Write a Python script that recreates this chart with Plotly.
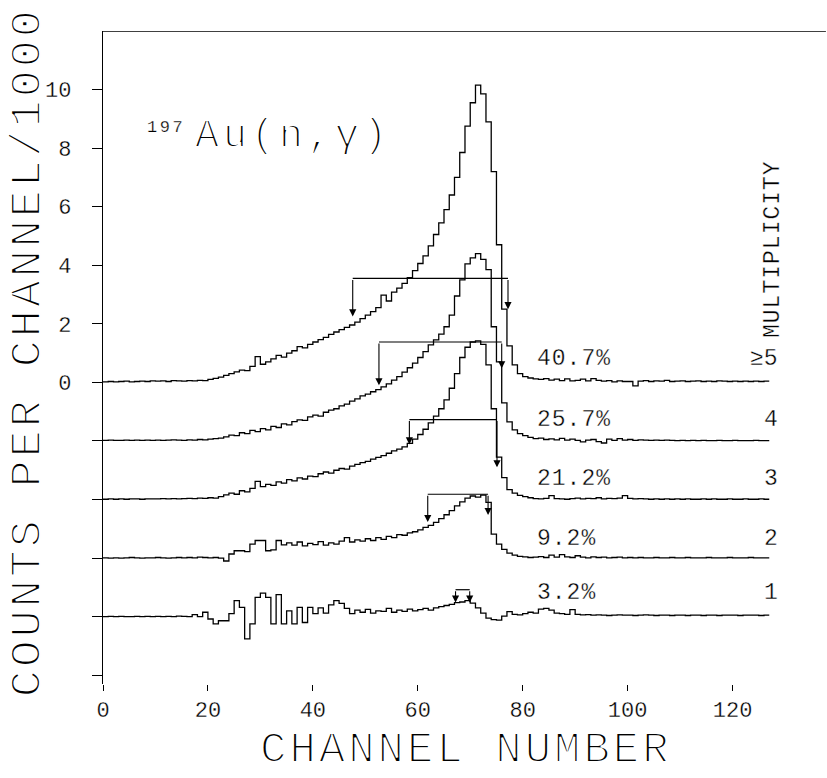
import numpy as np
import plotly.graph_objects as go

# Axis ticks
CHANNEL_TICKS = [0, 20, 40, 60, 80, 100, 120]
COUNT_TICKS = [-10, -8, -6, -4, -2, 0, 2, 4, 6, 8, 10]
COUNT_TICK_TEXT = ["", "", "", "", "", "0", "2", "4", "6", "8", "10"]

# Multiplicity groups, their share of events and the vertical offset of each spectrum
MULTIPLICITY = ["≥5", "4", "3", "2", "1"]
FRACTION = ["40.7%", "25.7%", "21.2%", "9.2%", "3.2%"]
BASELINE = [0, -2, -4, -6, -8]

# Counts per channel / 1000, channels 0..126
SPEC_GE5 = [
    0.02, 0.03, 0.02, 0.03, 0.04, 0.02, 0.03, 0.04, 0.03, 0.05,
    0.04, 0.05, 0.03, 0.06, 0.05, 0.04, 0.06, 0.05, 0.07, 0.06,
    0.10, 0.14, 0.18, 0.24, 0.30, 0.36, 0.42, 0.40, 0.55, 0.88,
    0.62, 0.70, 0.80, 0.92, 0.86, 1.00, 1.08, 1.22, 1.18, 1.30,
    1.38, 1.46, 1.54, 1.64, 1.72, 1.80, 1.88, 1.96, 2.06, 2.18,
    2.30, 2.42, 2.55, 2.98, 2.78, 3.08, 3.22, 3.38, 3.58, 3.82,
    4.06, 4.32, 4.66, 5.05, 5.45, 5.90, 6.40, 7.00, 7.85, 8.75,
    9.55, 10.15, 9.85, 8.90, 7.20, 4.70, 2.50, 1.25, 0.60, 0.30,
    0.20, 0.15, 0.12, 0.10, 0.13, 0.08, 0.11, 0.06, 0.12, 0.05,
    0.07, 0.11, 0.05, 0.13, 0.07, 0.04, 0.06, 0.02, 0.05, 0.03,
    0.03, -0.12, 0.04, 0.06, 0.03, 0.05, 0.04, 0.07, 0.03, 0.04,
    0.05, 0.03, 0.04, 0.05, 0.03, 0.04, 0.03, 0.05, 0.04, 0.03,
    0.04, 0.03, 0.04, 0.03, 0.04, 0.03, 0.04,
]
SPEC_4 = [
    0.02, 0.03, 0.02, 0.02, 0.03, 0.02, 0.03, 0.02, 0.03, 0.02,
    0.03, 0.02, 0.03, 0.04, 0.03, 0.02, 0.04, 0.03, 0.05, 0.04,
    0.06, 0.08, 0.10, 0.14, 0.20, 0.18, 0.28, 0.25, 0.36, 0.32,
    0.42, 0.38, 0.50, 0.46, 0.58, 0.55, 0.66, 0.72, 0.70, 0.82,
    0.88, 0.85, 0.98, 1.05, 1.10, 1.20, 1.26, 1.36, 1.44, 1.54,
    1.60, 1.68, 1.75, 1.85, 1.95, 2.08, 2.20, 2.35, 2.50, 2.66,
    2.85, 3.05, 3.28, 3.45, 3.65, 3.90, 4.30, 4.95, 5.50, 6.05,
    6.25, 6.40, 6.20, 5.85, 3.90, 2.70, 1.30, 0.65, 0.38, 0.25,
    0.18, 0.12, 0.08, 0.10, 0.05, 0.07, 0.04, 0.09, 0.03, 0.06,
    0.02, -0.03, 0.03, 0.05, -0.02, -0.07, 0.06, 0.02, 0.08, 0.03,
    0.05, 0.02, 0.04, 0.03, 0.02, 0.03, 0.02, 0.03, 0.02, 0.01,
    0.02, 0.01, 0.02, 0.01, 0.02, 0.01, 0.01, 0.02, 0.01, 0.01,
    0.02, 0.01, 0.01, 0.01, 0.02, 0.01, 0.01,
]
SPEC_3 = [
    0.01, 0.02, 0.01, 0.02, 0.01, 0.02, 0.02, 0.01, 0.02, 0.02,
    0.02, 0.03, 0.02, 0.03, 0.02, 0.03, 0.04, 0.03, 0.05, 0.04,
    0.06, 0.05, 0.10, 0.16, 0.22, 0.18, 0.30, 0.26, 0.38, 0.62,
    0.44, 0.52, 0.48, 0.60, 0.56, 0.68, 0.64, 0.74, 0.70, 0.80,
    0.78, 0.88, 0.94, 0.90, 1.00, 1.06, 1.04, 1.14, 1.20, 1.26,
    1.30, 1.38, 1.44, 1.50, 1.58, 1.66, 1.72, 1.80, 1.92, 2.06,
    2.22, 2.40, 2.62, 2.85, 3.10, 3.40, 3.80, 4.30, 4.85, 5.20,
    5.38, 5.42, 5.30, 4.60, 3.10, 1.45, 0.75, 0.34, 0.22, 0.14,
    0.10, 0.06, 0.03, 0.02, 0.04, 0.13, 0.03, 0.02, 0.01, 0.03,
    0.05, 0.02, 0.04, 0.03, 0.06, 0.02, 0.04, 0.03, 0.05, 0.13,
    0.04, 0.02, 0.03, 0.02, 0.01, 0.02, 0.01, 0.02, 0.01, 0.02,
    0.01, 0.02, 0.01, 0.01, 0.02, 0.01, 0.02, 0.01, 0.01, 0.02,
    0.01, 0.01, 0.02, 0.01, 0.01, 0.02, 0.01,
]
SPEC_2 = [
    0.01, 0.00, 0.01, 0.00, 0.01, 0.02, 0.01, 0.00, 0.01, 0.01,
    0.02, 0.01, 0.00, 0.01, 0.02, 0.01, 0.02, 0.01, 0.03, 0.02,
    0.01, 0.02, 0.00, -0.10, 0.14, 0.25, 0.25, 0.22, 0.48, 0.60,
    0.60, 0.25, 0.28, 0.60, 0.45, 0.52, 0.44, 0.55, 0.42, 0.50,
    0.46, 0.56, 0.44, 0.52, 0.48, 0.58, 0.70, 0.55, 0.62, 0.58,
    0.66, 0.60, 0.70, 0.64, 0.74, 0.70, 0.80, 0.78, 0.86, 0.90,
    0.96, 1.05, 1.12, 1.22, 1.35, 1.48, 1.62, 1.78, 1.92, 2.05,
    2.12, 2.08, 2.15, 1.90, 0.82, 0.48, 0.30, 0.17, 0.10, 0.06,
    0.04, 0.02, 0.03, 0.05, 0.02, 0.10, 0.03, 0.12, 0.04, 0.02,
    0.08, 0.03, 0.01, 0.04, 0.02, 0.03, 0.01, 0.02, 0.03, 0.01,
    0.02, 0.01, 0.02, 0.01, 0.01, 0.02, 0.01, 0.01, 0.02, 0.01,
    0.01, 0.02, 0.01, 0.01, 0.01, 0.02, 0.01, 0.01, 0.01, 0.02,
    0.01, 0.01, 0.01, 0.02, 0.01, 0.01, 0.01,
]
SPEC_1 = [
    0.00, 0.01, 0.00, 0.01, 0.00, 0.00, 0.01, 0.00, 0.01, 0.00,
    0.01, 0.00, 0.01, 0.00, 0.02, 0.01, 0.00, 0.07, 0.00, 0.15,
    -0.08, -0.25, -0.14, -0.14, 0.10, 0.55, 0.32, -0.76, -0.25, 0.66,
    0.80, 0.66, -0.25, 0.75, -0.25, 0.20, -0.25, 0.32, -0.20, 0.32,
    0.10, 0.30, 0.12, 0.40, 0.55, 0.45, 0.28, 0.10, 0.22, 0.15,
    0.25, 0.12, 0.20, 0.18, 0.28, 0.15, 0.22, 0.18, 0.26, 0.20,
    0.24, 0.28, 0.22, 0.30, 0.34, 0.38, 0.42, 0.48, 0.50, 0.55,
    0.46, 0.30, 0.12, -0.05, -0.10, -0.12, 0.02, 0.17, 0.08, 0.06,
    0.10, 0.15, 0.12, 0.26, 0.28, 0.22, 0.12, 0.10, 0.08, 0.24,
    0.08, 0.06, 0.07, 0.05, 0.06, 0.05, 0.04, 0.05, 0.06, 0.05,
    0.05, 0.04, 0.05, 0.06, 0.05, 0.04, 0.05, 0.05, 0.04, 0.05,
    0.05, 0.04, 0.05, 0.05, 0.04, 0.05, 0.05, 0.04, 0.05, 0.05,
    0.05, 0.04, 0.05, 0.05, 0.05, 0.04, 0.05,
]
SPECTRA = [SPEC_GE5, SPEC_4, SPEC_3, SPEC_2, SPEC_1]

# Marker arrows (channel positions and heights above each spectrum's baseline)
ARROW_LEFT = [47.6, 52.6, 58.4, 61.9, 67.2]
ARROW_RIGHT = [77.2, 76.0, 75.1, 73.4, 69.9]
ARROW_LEVEL = [3.55, 3.38, 2.73, 2.18, 0.92]
LEFT_TIP = [2.25, 1.90, 1.88, 1.23, 0.48]
RIGHT_TIP = [2.50, 2.48, 1.10, 1.47, 0.48]

FONT = "Liberation Mono"
INK = "black"
LABEL_RISE = [0.80, 0.73, 0.69, 0.66, 0.80]


def pen(text, thin, spacing=0.0):
    """Plotter-style lettering: a white outline trims the glyph strokes."""
    style = f"stroke:white;stroke-width:{thin}px;letter-spacing:{spacing}px"
    return f'<span style="{style}">{text}</span>'


fig = go.Figure()

for spec, base in zip(SPECTRA, BASELINE):
    vals = np.asarray(spec, dtype=float) + base
    edges = np.arange(len(vals) + 1)
    fig.add_trace(go.Scatter(
        x=edges, y=np.append(vals, vals[-1]),
        mode="lines", line=dict(color=INK, width=1.3, shape="hv"),
        hoverinfo="skip",
    ))

annotations = []
for i, base in enumerate(BASELINE):
    lvl = ARROW_LEVEL[i] + base
    fig.add_trace(go.Scatter(
        x=[ARROW_LEFT[i], ARROW_RIGHT[i]], y=[lvl, lvl],
        mode="lines", line=dict(color=INK, width=1.2), hoverinfo="skip",
    ))
    for xa, tip in ((ARROW_LEFT[i], LEFT_TIP[i]), (ARROW_RIGHT[i], RIGHT_TIP[i])):
        annotations.append(dict(
            x=xa, y=tip + base, ax=xa, ay=lvl, xref="x", yref="y",
            axref="x", ayref="y", text="", showarrow=True,
            arrowhead=2, arrowsize=1.3, arrowwidth=1.1, arrowcolor=INK,
        ))
    annotations.append(dict(
        x=82.3, y=base + LABEL_RISE[i], xref="x", yref="y",
        text=pen(FRACTION[i], 0.35, 1), showarrow=False,
        xanchor="left", yanchor="middle",
        font=dict(family=FONT, size=23, color=INK),
    ))
    annotations.append(dict(
        x=129.0, y=base + LABEL_RISE[i], xref="x", yref="y",
        text=pen(MULTIPLICITY[i], 0.35), showarrow=False,
        xanchor="right", yanchor="middle",
        font=dict(family=FONT, size=23, color=INK),
    ))

annotations += [
    dict(x=127.6, y=4.57, xref="x", yref="y", text=pen("MULTIPLICITY", 0.35, 1),
         textangle=-90, showarrow=False, xanchor="center", yanchor="middle",
         font=dict(family=FONT, size=23, color=INK)),
    dict(x=8.0, y=8.72, xref="x", yref="y", text=pen("197", 0.25, 2.5),
         showarrow=False, xanchor="left", yanchor="middle",
         font=dict(family=FONT, size=17, color=INK)),
    dict(x=17.1, y=8.41, xref="x", yref="y", text=pen("Au(n,γ)", 1.8, 4),
         showarrow=False, xanchor="left", yanchor="middle",
         font=dict(family=FONT, size=40, color=INK)),
    dict(x=-0.11, y=0.508, xref="paper", yref="paper",
         text=pen("COUNTS PER CHANNEL/1000", 2.0, 3),
         textangle=-90, showarrow=False, xanchor="center", yanchor="middle",
         font=dict(family=FONT, size=45, color=INK)),
    dict(x=0.532, y=-0.143, xref="paper", yref="paper",
         text=pen("CHANNEL NUMBER", 2.0, 3),
         showarrow=False, xanchor="center", yanchor="bottom",
         font=dict(family=FONT, size=44, color=INK)),
]

fig.update_layout(
    width=827, height=778,
    margin=dict(l=103, r=41.5, t=31, b=94),
    plot_bgcolor="white", paper_bgcolor="white",
    showlegend=False,
    font=dict(family=FONT, color=INK),
    annotations=annotations,
    shapes=[dict(type="line", xref="paper", yref="y", x0=0, x1=1.06, y0=12, y1=12,
                 line=dict(color=INK, width=1.3))],
    xaxis=dict(
        range=[0, 130], showgrid=False, zeroline=False, showline=False,
        ticks="outside", ticklen=6, tickwidth=1.2, tickcolor=INK,
        tickvals=CHANNEL_TICKS,
        ticktext=[pen(str(v), 0.3) for v in CHANNEL_TICKS],
        tickfont=dict(family=FONT, size=22, color=INK),
    ),
    yaxis=dict(
        range=[-10.3, 12], showgrid=False, zeroline=False,
        showline=True, linecolor=INK, linewidth=1.3,
        ticks="outside", ticklen=10, tickwidth=1.3, tickcolor=INK,
        tickvals=COUNT_TICKS,
        ticktext=[pen(t, 0.3) if t else "" for t in COUNT_TICK_TEXT],
        ticklabelstandoff=16,
        tickfont=dict(family=FONT, size=22, color=INK),
    ),
)

fig.write_html("out.html")
